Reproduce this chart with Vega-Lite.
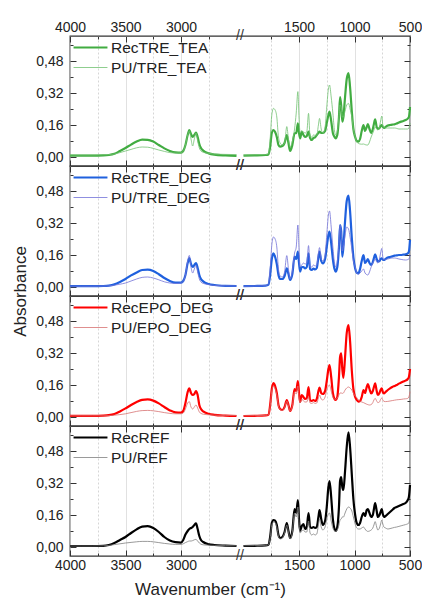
{
"$schema": "https://vega.github.io/schema/vega-lite/v6.json",
"padding": {"left": 10, "top": 16, "right": 13, "bottom": 4},
"background": "white",
"config": {
 "font": "Liberation Sans",
 "view": {"stroke": "#333333", "strokeWidth": 1.3},
 "concat": {"spacing": 0},
 "axis": {"domain": false, "tickColor": "#333333", "tickWidth": 1, "labelFont": "Liberation Sans", "labelFontSize": 14, "labelColor": "#222222", "titleFont": "Liberation Sans", "titleFontSize": 17, "titleFontWeight": "normal", "titleColor": "#222222"},
 "legend": {"orient": "top-left", "offset": 0, "padding": 2, "labelFont": "Liberation Sans", "labelFontSize": 15.5, "labelColor": "#222222", "symbolType": "stroke", "symbolSize": 1150, "clipHeight": 19, "rowPadding": 1, "labelOffset": 2, "labelLimit": 300}
},
"datasets": {
"brk": [{"w": 2250, "a": 0.605}, {"w": 2250, "a": -0.045}],
"spec": [
{"w":4000,"seg":"L","RecTRE_TEA":0.007,"PU/TRE_TEA":0.01,"RecTRE_DEG":0.004,"PU/TRE_DEG":0.004,"RecEPO_DEG":0.006,"PU/EPO_DEG":0.006,"RecREF":0.005,"PU/REF":0.005},
{"w":3900,"seg":"L","RecTRE_TEA":0.007,"PU/TRE_TEA":0.01,"RecTRE_DEG":0.004,"PU/TRE_DEG":0.004,"RecEPO_DEG":0.006,"PU/EPO_DEG":0.006,"RecREF":0.005,"PU/REF":0.005},
{"w":3800,"seg":"L","RecTRE_TEA":0.007,"PU/TRE_TEA":0.01,"RecTRE_DEG":0.004,"PU/TRE_DEG":0.004,"RecEPO_DEG":0.006,"PU/EPO_DEG":0.006,"RecREF":0.005,"PU/REF":0.005},
{"w":3700,"seg":"L","RecTRE_TEA":0.008,"PU/TRE_TEA":0.011,"RecTRE_DEG":0.005,"PU/TRE_DEG":0.005,"RecEPO_DEG":0.007,"PU/EPO_DEG":0.006,"RecREF":0.006,"PU/REF":0.006},
{"w":3650,"seg":"L","RecTRE_TEA":0.01,"PU/TRE_TEA":0.012,"RecTRE_DEG":0.007,"PU/TRE_DEG":0.006,"RecEPO_DEG":0.009,"PU/EPO_DEG":0.007,"RecREF":0.01,"PU/REF":0.008},
{"w":3600,"seg":"L","RecTRE_TEA":0.016,"PU/TRE_TEA":0.015,"RecTRE_DEG":0.013,"PU/TRE_DEG":0.009,"RecEPO_DEG":0.015,"PU/EPO_DEG":0.009,"RecREF":0.02,"PU/REF":0.012},
{"w":3550,"seg":"L","RecTRE_TEA":0.03,"PU/TRE_TEA":0.022,"RecTRE_DEG":0.025,"PU/TRE_DEG":0.014,"RecEPO_DEG":0.028,"PU/EPO_DEG":0.012,"RecREF":0.035,"PU/REF":0.016},
{"w":3500,"seg":"L","RecTRE_TEA":0.045,"PU/TRE_TEA":0.03,"RecTRE_DEG":0.04,"PU/TRE_DEG":0.02,"RecEPO_DEG":0.043,"PU/EPO_DEG":0.016,"RecREF":0.05,"PU/REF":0.02},
{"w":3450,"seg":"L","RecTRE_TEA":0.062,"PU/TRE_TEA":0.038,"RecTRE_DEG":0.058,"PU/TRE_DEG":0.03,"RecEPO_DEG":0.06,"PU/EPO_DEG":0.022,"RecREF":0.07,"PU/REF":0.023},
{"w":3400,"seg":"L","RecTRE_TEA":0.077,"PU/TRE_TEA":0.046,"RecTRE_DEG":0.073,"PU/TRE_DEG":0.04,"RecEPO_DEG":0.075,"PU/EPO_DEG":0.028,"RecREF":0.088,"PU/REF":0.026},
{"w":3350,"seg":"L","RecTRE_TEA":0.087,"PU/TRE_TEA":0.05,"RecTRE_DEG":0.085,"PU/TRE_DEG":0.048,"RecEPO_DEG":0.086,"PU/EPO_DEG":0.032,"RecREF":0.102,"PU/REF":0.028},
{"w":3300,"seg":"L","RecTRE_TEA":0.086,"PU/TRE_TEA":0.049,"RecTRE_DEG":0.087,"PU/TRE_DEG":0.05,"RecEPO_DEG":0.088,"PU/EPO_DEG":0.033,"RecREF":0.104,"PU/REF":0.028},
{"w":3250,"seg":"L","RecTRE_TEA":0.077,"PU/TRE_TEA":0.043,"RecTRE_DEG":0.08,"PU/TRE_DEG":0.045,"RecEPO_DEG":0.082,"PU/EPO_DEG":0.031,"RecREF":0.095,"PU/REF":0.026},
{"w":3200,"seg":"L","RecTRE_TEA":0.06,"PU/TRE_TEA":0.035,"RecTRE_DEG":0.064,"PU/TRE_DEG":0.036,"RecEPO_DEG":0.068,"PU/EPO_DEG":0.027,"RecREF":0.075,"PU/REF":0.022},
{"w":3150,"seg":"L","RecTRE_TEA":0.043,"PU/TRE_TEA":0.028,"RecTRE_DEG":0.045,"PU/TRE_DEG":0.026,"RecEPO_DEG":0.05,"PU/EPO_DEG":0.022,"RecREF":0.05,"PU/REF":0.018},
{"w":3100,"seg":"L","RecTRE_TEA":0.03,"PU/TRE_TEA":0.022,"RecTRE_DEG":0.03,"PU/TRE_DEG":0.02,"RecEPO_DEG":0.033,"PU/EPO_DEG":0.018,"RecREF":0.032,"PU/REF":0.015},
{"w":3050,"seg":"L","RecTRE_TEA":0.023,"PU/TRE_TEA":0.02,"RecTRE_DEG":0.022,"PU/TRE_DEG":0.018,"RecEPO_DEG":0.023,"PU/EPO_DEG":0.016,"RecREF":0.024,"PU/REF":0.013},
{"w":3000,"seg":"L","RecTRE_TEA":0.022,"PU/TRE_TEA":0.021,"RecTRE_DEG":0.022,"PU/TRE_DEG":0.02,"RecEPO_DEG":0.022,"PU/EPO_DEG":0.016,"RecREF":0.022,"PU/REF":0.013},
{"w":2980,"seg":"L","RecTRE_TEA":0.03,"PU/TRE_TEA":0.028,"RecTRE_DEG":0.03,"PU/TRE_DEG":0.028,"RecEPO_DEG":0.03,"PU/EPO_DEG":0.02,"RecREF":0.035,"PU/REF":0.016},
{"w":2960,"seg":"L","RecTRE_TEA":0.06,"PU/TRE_TEA":0.06,"RecTRE_DEG":0.06,"PU/TRE_DEG":0.06,"RecEPO_DEG":0.07,"PU/EPO_DEG":0.04,"RecREF":0.062,"PU/REF":0.022},
{"w":2940,"seg":"L","RecTRE_TEA":0.11,"PU/TRE_TEA":0.11,"RecTRE_DEG":0.12,"PU/TRE_DEG":0.13,"RecEPO_DEG":0.125,"PU/EPO_DEG":0.07,"RecREF":0.08,"PU/REF":0.027},
{"w":2925,"seg":"L","RecTRE_TEA":0.135,"PU/TRE_TEA":0.13,"RecTRE_DEG":0.145,"PU/TRE_DEG":0.158,"RecEPO_DEG":0.143,"PU/EPO_DEG":0.077,"RecREF":0.09,"PU/REF":0.03},
{"w":2910,"seg":"L","RecTRE_TEA":0.115,"PU/TRE_TEA":0.09,"RecTRE_DEG":0.115,"PU/TRE_DEG":0.1,"RecEPO_DEG":0.12,"PU/EPO_DEG":0.05,"RecREF":0.095,"PU/REF":0.03},
{"w":2895,"seg":"L","RecTRE_TEA":0.1,"PU/TRE_TEA":0.055,"RecTRE_DEG":0.1,"PU/TRE_DEG":0.07,"RecEPO_DEG":0.11,"PU/EPO_DEG":0.04,"RecREF":0.1,"PU/REF":0.032},
{"w":2880,"seg":"L","RecTRE_TEA":0.11,"PU/TRE_TEA":0.09,"RecTRE_DEG":0.11,"PU/TRE_DEG":0.09,"RecEPO_DEG":0.115,"PU/EPO_DEG":0.05,"RecREF":0.11,"PU/REF":0.036},
{"w":2865,"seg":"L","RecTRE_TEA":0.122,"PU/TRE_TEA":0.12,"RecTRE_DEG":0.12,"PU/TRE_DEG":0.11,"RecEPO_DEG":0.13,"PU/EPO_DEG":0.06,"RecREF":0.118,"PU/REF":0.038},
{"w":2850,"seg":"L","RecTRE_TEA":0.1,"PU/TRE_TEA":0.08,"RecTRE_DEG":0.095,"PU/TRE_DEG":0.075,"RecEPO_DEG":0.11,"PU/EPO_DEG":0.045,"RecREF":0.09,"PU/REF":0.03},
{"w":2835,"seg":"L","RecTRE_TEA":0.065,"PU/TRE_TEA":0.045,"RecTRE_DEG":0.06,"PU/TRE_DEG":0.04,"RecEPO_DEG":0.06,"PU/EPO_DEG":0.025,"RecREF":0.055,"PU/REF":0.02},
{"w":2820,"seg":"L","RecTRE_TEA":0.045,"PU/TRE_TEA":0.03,"RecTRE_DEG":0.04,"PU/TRE_DEG":0.025,"RecEPO_DEG":0.04,"PU/EPO_DEG":0.018,"RecREF":0.035,"PU/REF":0.014},
{"w":2800,"seg":"L","RecTRE_TEA":0.032,"PU/TRE_TEA":0.024,"RecTRE_DEG":0.028,"PU/TRE_DEG":0.018,"RecEPO_DEG":0.028,"PU/EPO_DEG":0.014,"RecREF":0.025,"PU/REF":0.011},
{"w":2750,"seg":"L","RecTRE_TEA":0.018,"PU/TRE_TEA":0.018,"RecTRE_DEG":0.015,"PU/TRE_DEG":0.012,"RecEPO_DEG":0.016,"PU/EPO_DEG":0.011,"RecREF":0.014,"PU/REF":0.009},
{"w":2700,"seg":"L","RecTRE_TEA":0.012,"PU/TRE_TEA":0.015,"RecTRE_DEG":0.01,"PU/TRE_DEG":0.008,"RecEPO_DEG":0.011,"PU/EPO_DEG":0.009,"RecREF":0.01,"PU/REF":0.008},
{"w":2600,"seg":"L","RecTRE_TEA":0.008,"PU/TRE_TEA":0.013,"RecTRE_DEG":0.006,"PU/TRE_DEG":0.006,"RecEPO_DEG":0.007,"PU/EPO_DEG":0.008,"RecREF":0.007,"PU/REF":0.007},
{"w":2500,"seg":"L","RecTRE_TEA":0.006,"PU/TRE_TEA":0.012,"RecTRE_DEG":0.005,"PU/TRE_DEG":0.005,"RecEPO_DEG":0.005,"PU/EPO_DEG":0.008,"RecREF":0.005,"PU/REF":0.006},
{"w":2000,"seg":"R","RecTRE_TEA":0.007,"PU/TRE_TEA":0.01,"RecTRE_DEG":0.004,"PU/TRE_DEG":0.004,"RecEPO_DEG":0.005,"PU/EPO_DEG":0.006,"RecREF":0.005,"PU/REF":0.006},
{"w":1900,"seg":"R","RecTRE_TEA":0.008,"PU/TRE_TEA":0.011,"RecTRE_DEG":0.005,"PU/TRE_DEG":0.005,"RecEPO_DEG":0.006,"PU/EPO_DEG":0.007,"RecREF":0.006,"PU/REF":0.007},
{"w":1800,"seg":"R","RecTRE_TEA":0.01,"PU/TRE_TEA":0.012,"RecTRE_DEG":0.007,"PU/TRE_DEG":0.007,"RecEPO_DEG":0.008,"PU/EPO_DEG":0.008,"RecREF":0.008,"PU/REF":0.008},
{"w":1775,"seg":"R","RecTRE_TEA":0.013,"PU/TRE_TEA":0.016,"RecTRE_DEG":0.012,"PU/TRE_DEG":0.015,"RecEPO_DEG":0.012,"PU/EPO_DEG":0.012,"RecREF":0.012,"PU/REF":0.012},
{"w":1760,"seg":"R","RecTRE_TEA":0.05,"PU/TRE_TEA":0.09,"RecTRE_DEG":0.06,"PU/TRE_DEG":0.09,"RecEPO_DEG":0.06,"PU/EPO_DEG":0.055,"RecREF":0.05,"PU/REF":0.045},
{"w":1745,"seg":"R","RecTRE_TEA":0.12,"PU/TRE_TEA":0.21,"RecTRE_DEG":0.14,"PU/TRE_DEG":0.21,"RecEPO_DEG":0.14,"PU/EPO_DEG":0.13,"RecREF":0.12,"PU/REF":0.11},
{"w":1730,"seg":"R","RecTRE_TEA":0.135,"PU/TRE_TEA":0.243,"RecTRE_DEG":0.168,"PU/TRE_DEG":0.25,"RecEPO_DEG":0.17,"PU/EPO_DEG":0.155,"RecREF":0.135,"PU/REF":0.125},
{"w":1715,"seg":"R","RecTRE_TEA":0.125,"PU/TRE_TEA":0.235,"RecTRE_DEG":0.15,"PU/TRE_DEG":0.24,"RecEPO_DEG":0.155,"PU/EPO_DEG":0.14,"RecREF":0.132,"PU/REF":0.122},
{"w":1700,"seg":"R","RecTRE_TEA":0.1,"PU/TRE_TEA":0.2,"RecTRE_DEG":0.115,"PU/TRE_DEG":0.2,"RecEPO_DEG":0.12,"PU/EPO_DEG":0.11,"RecREF":0.11,"PU/REF":0.1},
{"w":1685,"seg":"R","RecTRE_TEA":0.06,"PU/TRE_TEA":0.1,"RecTRE_DEG":0.06,"PU/TRE_DEG":0.09,"RecEPO_DEG":0.06,"PU/EPO_DEG":0.055,"RecREF":0.06,"PU/REF":0.055},
{"w":1670,"seg":"R","RecTRE_TEA":0.052,"PU/TRE_TEA":0.07,"RecTRE_DEG":0.04,"PU/TRE_DEG":0.055,"RecEPO_DEG":0.04,"PU/EPO_DEG":0.037,"RecREF":0.045,"PU/REF":0.04},
{"w":1650,"seg":"R","RecTRE_TEA":0.055,"PU/TRE_TEA":0.06,"RecTRE_DEG":0.04,"PU/TRE_DEG":0.05,"RecEPO_DEG":0.035,"PU/EPO_DEG":0.033,"RecREF":0.05,"PU/REF":0.045},
{"w":1630,"seg":"R","RecTRE_TEA":0.07,"PU/TRE_TEA":0.07,"RecTRE_DEG":0.055,"PU/TRE_DEG":0.075,"RecEPO_DEG":0.05,"PU/EPO_DEG":0.047,"RecREF":0.075,"PU/REF":0.07},
{"w":1610,"seg":"R","RecTRE_TEA":0.11,"PU/TRE_TEA":0.152,"RecTRE_DEG":0.093,"PU/TRE_DEG":0.157,"RecEPO_DEG":0.085,"PU/EPO_DEG":0.08,"RecREF":0.12,"PU/REF":0.11},
{"w":1595,"seg":"R","RecTRE_TEA":0.07,"PU/TRE_TEA":0.09,"RecTRE_DEG":0.065,"PU/TRE_DEG":0.09,"RecEPO_DEG":0.06,"PU/EPO_DEG":0.055,"RecREF":0.08,"PU/REF":0.075},
{"w":1580,"seg":"R","RecTRE_TEA":0.03,"PU/TRE_TEA":0.05,"RecTRE_DEG":0.035,"PU/TRE_DEG":0.04,"RecEPO_DEG":0.03,"PU/EPO_DEG":0.03,"RecREF":0.045,"PU/REF":0.04},
{"w":1560,"seg":"R","RecTRE_TEA":0.06,"PU/TRE_TEA":0.08,"RecTRE_DEG":0.065,"PU/TRE_DEG":0.08,"RecEPO_DEG":0.06,"PU/EPO_DEG":0.055,"RecREF":0.08,"PU/REF":0.075},
{"w":1540,"seg":"R","RecTRE_TEA":0.118,"PU/TRE_TEA":0.14,"RecTRE_DEG":0.152,"PU/TRE_DEG":0.17,"RecEPO_DEG":0.14,"PU/EPO_DEG":0.125,"RecREF":0.19,"PU/REF":0.17},
{"w":1525,"seg":"R","RecTRE_TEA":0.12,"PU/TRE_TEA":0.22,"RecTRE_DEG":0.14,"PU/TRE_DEG":0.2,"RecEPO_DEG":0.13,"PU/EPO_DEG":0.115,"RecREF":0.17,"PU/REF":0.15},
{"w":1510,"seg":"R","RecTRE_TEA":0.168,"PU/TRE_TEA":0.327,"RecTRE_DEG":0.177,"PU/TRE_DEG":0.31,"RecEPO_DEG":0.18,"PU/EPO_DEG":0.155,"RecREF":0.235,"PU/REF":0.2},
{"w":1500,"seg":"R","RecTRE_TEA":0.12,"PU/TRE_TEA":0.2,"RecTRE_DEG":0.12,"PU/TRE_DEG":0.19,"RecEPO_DEG":0.12,"PU/EPO_DEG":0.1,"RecREF":0.14,"PU/REF":0.12},
{"w":1490,"seg":"R","RecTRE_TEA":0.093,"PU/TRE_TEA":0.12,"RecTRE_DEG":0.077,"PU/TRE_DEG":0.1,"RecEPO_DEG":0.075,"PU/EPO_DEG":0.07,"RecREF":0.08,"PU/REF":0.07},
{"w":1475,"seg":"R","RecTRE_TEA":0.127,"PU/TRE_TEA":0.13,"RecTRE_DEG":0.1,"PU/TRE_DEG":0.11,"RecEPO_DEG":0.11,"PU/EPO_DEG":0.09,"RecREF":0.105,"PU/REF":0.08},
{"w":1460,"seg":"R","RecTRE_TEA":0.11,"PU/TRE_TEA":0.125,"RecTRE_DEG":0.1,"PU/TRE_DEG":0.12,"RecEPO_DEG":0.1,"PU/EPO_DEG":0.08,"RecREF":0.115,"PU/REF":0.085},
{"w":1445,"seg":"R","RecTRE_TEA":0.1,"PU/TRE_TEA":0.12,"RecTRE_DEG":0.093,"PU/TRE_DEG":0.115,"RecEPO_DEG":0.09,"PU/EPO_DEG":0.075,"RecREF":0.09,"PU/REF":0.075},
{"w":1430,"seg":"R","RecTRE_TEA":0.105,"PU/TRE_TEA":0.125,"RecTRE_DEG":0.1,"PU/TRE_DEG":0.12,"RecEPO_DEG":0.095,"PU/EPO_DEG":0.075,"RecREF":0.1,"PU/REF":0.075},
{"w":1414,"seg":"R","RecTRE_TEA":0.127,"PU/TRE_TEA":0.218,"RecTRE_DEG":0.168,"PU/TRE_DEG":0.207,"RecEPO_DEG":0.15,"PU/EPO_DEG":0.1,"RecREF":0.17,"PU/REF":0.13},
{"w":1400,"seg":"R","RecTRE_TEA":0.095,"PU/TRE_TEA":0.1,"RecTRE_DEG":0.09,"PU/TRE_DEG":0.1,"RecEPO_DEG":0.085,"PU/EPO_DEG":0.07,"RecREF":0.1,"PU/REF":0.07},
{"w":1385,"seg":"R","RecTRE_TEA":0.085,"PU/TRE_TEA":0.1,"RecTRE_DEG":0.085,"PU/TRE_DEG":0.1,"RecEPO_DEG":0.08,"PU/EPO_DEG":0.068,"RecREF":0.095,"PU/REF":0.06},
{"w":1370,"seg":"R","RecTRE_TEA":0.095,"PU/TRE_TEA":0.11,"RecTRE_DEG":0.092,"PU/TRE_DEG":0.11,"RecEPO_DEG":0.085,"PU/EPO_DEG":0.072,"RecREF":0.1,"PU/REF":0.065},
{"w":1355,"seg":"R","RecTRE_TEA":0.098,"PU/TRE_TEA":0.108,"RecTRE_DEG":0.088,"PU/TRE_DEG":0.105,"RecEPO_DEG":0.08,"PU/EPO_DEG":0.068,"RecREF":0.095,"PU/REF":0.06},
{"w":1340,"seg":"R","RecTRE_TEA":0.11,"PU/TRE_TEA":0.11,"RecTRE_DEG":0.095,"PU/TRE_DEG":0.11,"RecEPO_DEG":0.09,"PU/EPO_DEG":0.07,"RecREF":0.1,"PU/REF":0.065},
{"w":1325,"seg":"R","RecTRE_TEA":0.12,"PU/TRE_TEA":0.16,"RecTRE_DEG":0.15,"PU/TRE_DEG":0.17,"RecEPO_DEG":0.13,"PU/EPO_DEG":0.095,"RecREF":0.15,"PU/REF":0.11},
{"w":1315,"seg":"R","RecTRE_TEA":0.127,"PU/TRE_TEA":0.193,"RecTRE_DEG":0.177,"PU/TRE_DEG":0.197,"RecEPO_DEG":0.147,"PU/EPO_DEG":0.11,"RecREF":0.185,"PU/REF":0.14},
{"w":1300,"seg":"R","RecTRE_TEA":0.12,"PU/TRE_TEA":0.14,"RecTRE_DEG":0.13,"PU/TRE_DEG":0.14,"RecEPO_DEG":0.12,"PU/EPO_DEG":0.09,"RecREF":0.14,"PU/REF":0.1},
{"w":1285,"seg":"R","RecTRE_TEA":0.12,"PU/TRE_TEA":0.12,"RecTRE_DEG":0.118,"PU/TRE_DEG":0.13,"RecEPO_DEG":0.115,"PU/EPO_DEG":0.085,"RecREF":0.11,"PU/REF":0.085},
{"w":1265,"seg":"R","RecTRE_TEA":0.13,"PU/TRE_TEA":0.15,"RecTRE_DEG":0.14,"PU/TRE_DEG":0.16,"RecEPO_DEG":0.13,"PU/EPO_DEG":0.1,"RecREF":0.13,"PU/REF":0.1},
{"w":1250,"seg":"R","RecTRE_TEA":0.17,"PU/TRE_TEA":0.25,"RecTRE_DEG":0.2,"PU/TRE_DEG":0.26,"RecEPO_DEG":0.18,"PU/EPO_DEG":0.135,"RecREF":0.2,"PU/REF":0.14},
{"w":1235,"seg":"R","RecTRE_TEA":0.21,"PU/TRE_TEA":0.34,"RecTRE_DEG":0.26,"PU/TRE_DEG":0.36,"RecEPO_DEG":0.24,"PU/EPO_DEG":0.155,"RecREF":0.3,"PU/REF":0.165},
{"w":1225,"seg":"R","RecTRE_TEA":0.227,"PU/TRE_TEA":0.36,"RecTRE_DEG":0.277,"PU/TRE_DEG":0.38,"RecEPO_DEG":0.26,"PU/EPO_DEG":0.16,"RecREF":0.33,"PU/REF":0.17},
{"w":1210,"seg":"R","RecTRE_TEA":0.18,"PU/TRE_TEA":0.3,"RecTRE_DEG":0.22,"PU/TRE_DEG":0.3,"RecEPO_DEG":0.2,"PU/EPO_DEG":0.13,"RecREF":0.25,"PU/REF":0.13},
{"w":1195,"seg":"R","RecTRE_TEA":0.12,"PU/TRE_TEA":0.22,"RecTRE_DEG":0.14,"PU/TRE_DEG":0.2,"RecEPO_DEG":0.12,"PU/EPO_DEG":0.1,"RecREF":0.14,"PU/REF":0.095},
{"w":1180,"seg":"R","RecTRE_TEA":0.1,"PU/TRE_TEA":0.13,"RecTRE_DEG":0.09,"PU/TRE_DEG":0.12,"RecEPO_DEG":0.09,"PU/EPO_DEG":0.09,"RecREF":0.09,"PU/REF":0.08},
{"w":1170,"seg":"R","RecTRE_TEA":0.093,"PU/TRE_TEA":0.11,"RecTRE_DEG":0.077,"PU/TRE_DEG":0.1,"RecEPO_DEG":0.085,"PU/EPO_DEG":0.088,"RecREF":0.08,"PU/REF":0.078},
{"w":1155,"seg":"R","RecTRE_TEA":0.11,"PU/TRE_TEA":0.13,"RecTRE_DEG":0.1,"PU/TRE_DEG":0.13,"RecEPO_DEG":0.1,"PU/EPO_DEG":0.095,"RecREF":0.1,"PU/REF":0.085},
{"w":1140,"seg":"R","RecTRE_TEA":0.2,"PU/TRE_TEA":0.2,"RecTRE_DEG":0.2,"PU/TRE_DEG":0.22,"RecEPO_DEG":0.2,"PU/EPO_DEG":0.11,"RecREF":0.2,"PU/REF":0.11},
{"w":1130,"seg":"R","RecTRE_TEA":0.3,"PU/TRE_TEA":0.26,"RecTRE_DEG":0.31,"PU/TRE_DEG":0.31,"RecEPO_DEG":0.3,"PU/EPO_DEG":0.12,"RecREF":0.33,"PU/REF":0.135},
{"w":1120,"seg":"R","RecTRE_TEA":0.26,"PU/TRE_TEA":0.25,"RecTRE_DEG":0.28,"PU/TRE_DEG":0.27,"RecEPO_DEG":0.318,"PU/EPO_DEG":0.12,"RecREF":0.35,"PU/REF":0.14},
{"w":1110,"seg":"R","RecTRE_TEA":0.177,"PU/TRE_TEA":0.2,"RecTRE_DEG":0.152,"PU/TRE_DEG":0.18,"RecEPO_DEG":0.24,"PU/EPO_DEG":0.118,"RecREF":0.3,"PU/REF":0.15},
{"w":1100,"seg":"R","RecTRE_TEA":0.2,"PU/TRE_TEA":0.2,"RecTRE_DEG":0.2,"PU/TRE_DEG":0.2,"RecEPO_DEG":0.195,"PU/EPO_DEG":0.12,"RecREF":0.285,"PU/REF":0.15},
{"w":1085,"seg":"R","RecTRE_TEA":0.3,"PU/TRE_TEA":0.23,"RecTRE_DEG":0.33,"PU/TRE_DEG":0.26,"RecEPO_DEG":0.3,"PU/EPO_DEG":0.135,"RecREF":0.38,"PU/REF":0.17},
{"w":1070,"seg":"R","RecTRE_TEA":0.39,"PU/TRE_TEA":0.26,"RecTRE_DEG":0.43,"PU/TRE_DEG":0.3,"RecEPO_DEG":0.42,"PU/EPO_DEG":0.145,"RecREF":0.5,"PU/REF":0.19},
{"w":1054,"seg":"R","RecTRE_TEA":0.42,"PU/TRE_TEA":0.268,"RecTRE_DEG":0.457,"PU/TRE_DEG":0.29,"RecEPO_DEG":0.46,"PU/EPO_DEG":0.15,"RecREF":0.573,"PU/REF":0.2},
{"w":1040,"seg":"R","RecTRE_TEA":0.35,"PU/TRE_TEA":0.24,"RecTRE_DEG":0.38,"PU/TRE_DEG":0.25,"RecEPO_DEG":0.38,"PU/EPO_DEG":0.145,"RecREF":0.5,"PU/REF":0.195},
{"w":1024,"seg":"R","RecTRE_TEA":0.227,"PU/TRE_TEA":0.2,"RecTRE_DEG":0.243,"PU/TRE_DEG":0.19,"RecEPO_DEG":0.23,"PU/EPO_DEG":0.135,"RecREF":0.36,"PU/REF":0.18},
{"w":1010,"seg":"R","RecTRE_TEA":0.14,"PU/TRE_TEA":0.14,"RecTRE_DEG":0.15,"PU/TRE_DEG":0.13,"RecEPO_DEG":0.14,"PU/EPO_DEG":0.12,"RecREF":0.24,"PU/REF":0.15},
{"w":994,"seg":"R","RecTRE_TEA":0.1,"PU/TRE_TEA":0.1,"RecTRE_DEG":0.093,"PU/TRE_DEG":0.1,"RecEPO_DEG":0.1,"PU/EPO_DEG":0.105,"RecREF":0.16,"PU/REF":0.115},
{"w":980,"seg":"R","RecTRE_TEA":0.08,"PU/TRE_TEA":0.075,"RecTRE_DEG":0.072,"PU/TRE_DEG":0.07,"RecEPO_DEG":0.085,"PU/EPO_DEG":0.098,"RecREF":0.12,"PU/REF":0.095},
{"w":965,"seg":"R","RecTRE_TEA":0.077,"PU/TRE_TEA":0.068,"RecTRE_DEG":0.068,"PU/TRE_DEG":0.065,"RecEPO_DEG":0.077,"PU/EPO_DEG":0.085,"RecREF":0.11,"PU/REF":0.09},
{"w":950,"seg":"R","RecTRE_TEA":0.09,"PU/TRE_TEA":0.065,"RecTRE_DEG":0.09,"PU/TRE_DEG":0.07,"RecEPO_DEG":0.08,"PU/EPO_DEG":0.08,"RecREF":0.12,"PU/REF":0.09},
{"w":935,"seg":"R","RecTRE_TEA":0.13,"PU/TRE_TEA":0.064,"RecTRE_DEG":0.13,"PU/TRE_DEG":0.08,"RecEPO_DEG":0.1,"PU/EPO_DEG":0.075,"RecREF":0.15,"PU/REF":0.095},
{"w":919,"seg":"R","RecTRE_TEA":0.16,"PU/TRE_TEA":0.065,"RecTRE_DEG":0.16,"PU/TRE_DEG":0.09,"RecEPO_DEG":0.135,"PU/EPO_DEG":0.072,"RecREF":0.17,"PU/REF":0.1},
{"w":905,"seg":"R","RecTRE_TEA":0.13,"PU/TRE_TEA":0.062,"RecTRE_DEG":0.12,"PU/TRE_DEG":0.07,"RecEPO_DEG":0.12,"PU/EPO_DEG":0.068,"RecREF":0.155,"PU/REF":0.09},
{"w":890,"seg":"R","RecTRE_TEA":0.15,"PU/TRE_TEA":0.06,"RecTRE_DEG":0.13,"PU/TRE_DEG":0.062,"RecEPO_DEG":0.15,"PU/EPO_DEG":0.064,"RecREF":0.185,"PU/REF":0.08},
{"w":880,"seg":"R","RecTRE_TEA":0.165,"PU/TRE_TEA":0.06,"RecTRE_DEG":0.14,"PU/TRE_DEG":0.06,"RecEPO_DEG":0.165,"PU/EPO_DEG":0.062,"RecREF":0.19,"PU/REF":0.078},
{"w":865,"seg":"R","RecTRE_TEA":0.14,"PU/TRE_TEA":0.075,"RecTRE_DEG":0.12,"PU/TRE_DEG":0.075,"RecEPO_DEG":0.14,"PU/EPO_DEG":0.06,"RecREF":0.17,"PU/REF":0.08},
{"w":850,"seg":"R","RecTRE_TEA":0.12,"PU/TRE_TEA":0.1,"RecTRE_DEG":0.11,"PU/TRE_DEG":0.1,"RecEPO_DEG":0.118,"PU/EPO_DEG":0.062,"RecREF":0.15,"PU/REF":0.085},
{"w":835,"seg":"R","RecTRE_TEA":0.14,"PU/TRE_TEA":0.12,"RecTRE_DEG":0.125,"PU/TRE_DEG":0.12,"RecEPO_DEG":0.13,"PU/EPO_DEG":0.072,"RecREF":0.16,"PU/REF":0.095},
{"w":825,"seg":"R","RecTRE_TEA":0.165,"PU/TRE_TEA":0.135,"RecTRE_DEG":0.145,"PU/TRE_DEG":0.13,"RecEPO_DEG":0.15,"PU/EPO_DEG":0.085,"RecREF":0.19,"PU/REF":0.11},
{"w":814,"seg":"R","RecTRE_TEA":0.188,"PU/TRE_TEA":0.15,"RecTRE_DEG":0.163,"PU/TRE_DEG":0.14,"RecEPO_DEG":0.168,"PU/EPO_DEG":0.093,"RecREF":0.22,"PU/REF":0.127},
{"w":800,"seg":"R","RecTRE_TEA":0.15,"PU/TRE_TEA":0.14,"RecTRE_DEG":0.14,"PU/TRE_DEG":0.125,"RecEPO_DEG":0.13,"PU/EPO_DEG":0.08,"RecREF":0.18,"PU/REF":0.1},
{"w":790,"seg":"R","RecTRE_TEA":0.14,"PU/TRE_TEA":0.135,"RecTRE_DEG":0.127,"PU/TRE_DEG":0.12,"RecEPO_DEG":0.11,"PU/EPO_DEG":0.072,"RecREF":0.15,"PU/REF":0.085},
{"w":775,"seg":"R","RecTRE_TEA":0.145,"PU/TRE_TEA":0.15,"RecTRE_DEG":0.13,"PU/TRE_DEG":0.14,"RecEPO_DEG":0.12,"PU/EPO_DEG":0.075,"RecREF":0.16,"PU/REF":0.095},
{"w":765,"seg":"R","RecTRE_TEA":0.155,"PU/TRE_TEA":0.18,"RecTRE_DEG":0.14,"PU/TRE_DEG":0.17,"RecEPO_DEG":0.135,"PU/EPO_DEG":0.088,"RecREF":0.175,"PU/REF":0.115},
{"w":754,"seg":"R","RecTRE_TEA":0.16,"PU/TRE_TEA":0.205,"RecTRE_DEG":0.143,"PU/TRE_DEG":0.193,"RecEPO_DEG":0.143,"PU/EPO_DEG":0.095,"RecREF":0.19,"PU/REF":0.135},
{"w":745,"seg":"R","RecTRE_TEA":0.15,"PU/TRE_TEA":0.16,"RecTRE_DEG":0.137,"PU/TRE_DEG":0.15,"RecEPO_DEG":0.125,"PU/EPO_DEG":0.085,"RecREF":0.165,"PU/REF":0.115},
{"w":735,"seg":"R","RecTRE_TEA":0.145,"PU/TRE_TEA":0.148,"RecTRE_DEG":0.135,"PU/TRE_DEG":0.135,"RecEPO_DEG":0.118,"PU/EPO_DEG":0.078,"RecREF":0.15,"PU/REF":0.1},
{"w":720,"seg":"R","RecTRE_TEA":0.15,"PU/TRE_TEA":0.145,"RecTRE_DEG":0.14,"PU/TRE_DEG":0.138,"RecEPO_DEG":0.125,"PU/EPO_DEG":0.077,"RecREF":0.155,"PU/REF":0.095},
{"w":700,"seg":"R","RecTRE_TEA":0.157,"PU/TRE_TEA":0.145,"RecTRE_DEG":0.147,"PU/TRE_DEG":0.14,"RecEPO_DEG":0.135,"PU/EPO_DEG":0.078,"RecREF":0.165,"PU/REF":0.09},
{"w":680,"seg":"R","RecTRE_TEA":0.16,"PU/TRE_TEA":0.145,"RecTRE_DEG":0.15,"PU/TRE_DEG":0.143,"RecEPO_DEG":0.143,"PU/EPO_DEG":0.08,"RecREF":0.175,"PU/REF":0.092},
{"w":660,"seg":"R","RecTRE_TEA":0.162,"PU/TRE_TEA":0.145,"RecTRE_DEG":0.153,"PU/TRE_DEG":0.145,"RecEPO_DEG":0.15,"PU/EPO_DEG":0.082,"RecREF":0.185,"PU/REF":0.095},
{"w":640,"seg":"R","RecTRE_TEA":0.163,"PU/TRE_TEA":0.145,"RecTRE_DEG":0.157,"PU/TRE_DEG":0.145,"RecEPO_DEG":0.155,"PU/EPO_DEG":0.084,"RecREF":0.195,"PU/REF":0.098},
{"w":620,"seg":"R","RecTRE_TEA":0.167,"PU/TRE_TEA":0.143,"RecTRE_DEG":0.158,"PU/TRE_DEG":0.143,"RecEPO_DEG":0.16,"PU/EPO_DEG":0.086,"RecREF":0.2,"PU/REF":0.1},
{"w":600,"seg":"R","RecTRE_TEA":0.173,"PU/TRE_TEA":0.14,"RecTRE_DEG":0.16,"PU/TRE_DEG":0.14,"RecEPO_DEG":0.167,"PU/EPO_DEG":0.087,"RecREF":0.205,"PU/REF":0.103},
{"w":580,"seg":"R","RecTRE_TEA":0.177,"PU/TRE_TEA":0.14,"RecTRE_DEG":0.16,"PU/TRE_DEG":0.138,"RecEPO_DEG":0.172,"PU/EPO_DEG":0.088,"RecREF":0.21,"PU/REF":0.106},
{"w":560,"seg":"R","RecTRE_TEA":0.18,"PU/TRE_TEA":0.14,"RecTRE_DEG":0.162,"PU/TRE_DEG":0.136,"RecEPO_DEG":0.177,"PU/EPO_DEG":0.09,"RecREF":0.215,"PU/REF":0.109},
{"w":540,"seg":"R","RecTRE_TEA":0.185,"PU/TRE_TEA":0.14,"RecTRE_DEG":0.163,"PU/TRE_DEG":0.135,"RecEPO_DEG":0.182,"PU/EPO_DEG":0.091,"RecREF":0.22,"PU/REF":0.112},
{"w":520,"seg":"R","RecTRE_TEA":0.192,"PU/TRE_TEA":0.14,"RecTRE_DEG":0.168,"PU/TRE_DEG":0.137,"RecEPO_DEG":0.19,"PU/EPO_DEG":0.093,"RecREF":0.235,"PU/REF":0.116},
{"w":510,"seg":"R","RecTRE_TEA":0.2,"PU/TRE_TEA":0.145,"RecTRE_DEG":0.177,"PU/TRE_DEG":0.14,"RecEPO_DEG":0.2,"PU/EPO_DEG":0.1,"RecREF":0.25,"PU/REF":0.12},
{"w":500,"seg":"R","RecTRE_TEA":0.25,"PU/TRE_TEA":0.17,"RecTRE_DEG":0.235,"PU/TRE_DEG":0.16,"RecEPO_DEG":0.24,"PU/EPO_DEG":0.127,"RecREF":0.31,"PU/REF":0.155}
]},
"spacing": 0,
"bounds": "flush",
"resolve": {"scale": {"color": "independent", "strokeWidth": "independent"}},
"vconcat": [
{"width": 340, "height": 130,
 "layer": [
  {"data": {"name": "spec"},
   "transform": [{"fold": ["RecTRE_TEA", "PU/TRE_TEA"], "as": ["series", "a"]}],
   "mark": {"type": "line", "interpolate": "monotone"},
   "encoding": {
    "x": {"field": "w", "type": "quantitative", "scale": {"domain": [4000, 2500, 2000, 500], "range": [0, 166.5, 173.5, 340], "zero": false, "nice": false},
      "axis": {"orient": "bottom", "values": [4000,3750,3500,3250,3000,2750,1750,1500,1250,1000,750,500], "labels": false, "tickSize": {"condition": {"test": "datum.value % 500 == 0", "value": -6}, "value": -3}, "grid": true, "gridColor": "#d6d6d6", "gridDash": {"condition": {"test": "datum.value % 500 == 0", "value": [1, 0]}, "value": [2, 2]}, "title": null}},
    "y": {"field": "a", "type": "quantitative", "scale": {"domain": [-0.045, 0.605], "zero": false, "nice": false},
      "axis": {"orient": "left", "values": [0,0.08,0.16,0.24,0.32,0.4,0.48,0.56], "labelExpr": "indexof([0,0.16,0.32,0.48], datum.value) >= 0 ? replace(format(datum.value, '.2f'), '.', ',') : ''", "tickSize": {"condition": {"test": "indexof([0,0.16,0.32,0.48], datum.value) >= 0", "value": -6}, "value": -3}, "labelPadding": 13, "grid": false, "title": null}},
    "detail": {"field": "seg", "type": "nominal"},
    "color": {"field": "series", "type": "nominal", "scale": {"domain": ["RecTRE_TEA", "PU/TRE_TEA"], "range": ["#41ac41", "#72c272"]}, "legend": {"title": null, "labelFontSize": 15.5}},
    "strokeWidth": {"field": "series", "type": "nominal", "scale": {"domain": ["RecTRE_TEA", "PU/TRE_TEA"], "range": [2.2, 0.8]}, "legend": {"title": null, "labelFontSize": 15.5}}
   }},
  {"data": {"name": "brk"},
   "mark": {"type": "text", "text": "//", "fontSize": 14, "color": "#333333"},
   "encoding": {
    "x": {"field": "w", "type": "quantitative", "scale": {"domain": [4000, 2500, 2000, 500], "range": [0, 166.5, 173.5, 340], "zero": false, "nice": false},
      "axis": {"orient": "top", "values": [4000,3750,3500,3250,3000,2750,1750,1500,1250,1000,750,500], "labelExpr": "datum.value % 500 == 0 ? datum.value : ''", "labelFlush": false, "labelOverlap": false, "tickSize": {"condition": {"test": "datum.value % 500 == 0", "value": -6}, "value": -3}, "labelPadding": 8, "grid": false, "title": null}},
    "y": {"field": "a", "type": "quantitative", "scale": {"domain": [-0.045, 0.605], "zero": false, "nice": false},
      "axis": {"orient": "right", "values": [0,0.08,0.16,0.24,0.32,0.4,0.48,0.56], "labels": false, "tickSize": {"condition": {"test": "indexof([0,0.16,0.32,0.48], datum.value) >= 0", "value": -6}, "value": -3}, "grid": false, "title": null}}
   }}
 ],
 "resolve": {"axis": {"x": "independent", "y": "independent"}}
},
{"width": 340, "height": 130,
 "layer": [
  {"data": {"name": "spec"},
   "transform": [{"fold": ["RecTRE_DEG", "PU/TRE_DEG"], "as": ["series", "a"]}],
   "mark": {"type": "line", "interpolate": "monotone"},
   "encoding": {
    "x": {"field": "w", "type": "quantitative", "scale": {"domain": [4000, 2500, 2000, 500], "range": [0, 166.5, 173.5, 340], "zero": false, "nice": false},
      "axis": {"orient": "bottom", "values": [4000,3750,3500,3250,3000,2750,1750,1500,1250,1000,750,500], "labels": false, "tickSize": {"condition": {"test": "datum.value % 500 == 0", "value": -6}, "value": -3}, "grid": true, "gridColor": "#d6d6d6", "gridDash": {"condition": {"test": "datum.value % 500 == 0", "value": [1, 0]}, "value": [2, 2]}, "title": null}},
    "y": {"field": "a", "type": "quantitative", "scale": {"domain": [-0.045, 0.605], "zero": false, "nice": false},
      "axis": {"orient": "left", "values": [0,0.08,0.16,0.24,0.32,0.4,0.48,0.56], "labelExpr": "indexof([0,0.16,0.32,0.48], datum.value) >= 0 ? replace(format(datum.value, '.2f'), '.', ',') : ''", "tickSize": {"condition": {"test": "indexof([0,0.16,0.32,0.48], datum.value) >= 0", "value": -6}, "value": -3}, "labelPadding": 13, "grid": false, "title": "Absorbance", "titleX": -50, "titleY": 125, "titleAngle": 270, "titleAlign": "center", "titleBaseline": "middle"}},
    "detail": {"field": "seg", "type": "nominal"},
    "color": {"field": "series", "type": "nominal", "scale": {"domain": ["RecTRE_DEG", "PU/TRE_DEG"], "range": ["#1f60de", "#7272d8"]}, "legend": {"title": null, "labelFontSize": 15.5}},
    "strokeWidth": {"field": "series", "type": "nominal", "scale": {"domain": ["RecTRE_DEG", "PU/TRE_DEG"], "range": [2.2, 0.8]}, "legend": {"title": null, "labelFontSize": 15.5}}
   }},
  {"data": {"name": "brk"},
   "mark": {"type": "text", "text": "//", "fontSize": 14, "color": "#333333"},
   "encoding": {
    "x": {"field": "w", "type": "quantitative", "scale": {"domain": [4000, 2500, 2000, 500], "range": [0, 166.5, 173.5, 340], "zero": false, "nice": false},
      "axis": {"orient": "top", "values": [4000,3750,3500,3250,3000,2750,1750,1500,1250,1000,750,500], "labels": false, "tickSize": {"condition": {"test": "datum.value % 500 == 0", "value": -6}, "value": -3}, "grid": false, "title": null}},
    "y": {"field": "a", "type": "quantitative", "scale": {"domain": [-0.045, 0.605], "zero": false, "nice": false},
      "axis": {"orient": "right", "values": [0,0.08,0.16,0.24,0.32,0.4,0.48,0.56], "labels": false, "tickSize": {"condition": {"test": "indexof([0,0.16,0.32,0.48], datum.value) >= 0", "value": -6}, "value": -3}, "grid": false, "title": null}}
   }}
 ],
 "resolve": {"axis": {"x": "independent", "y": "independent"}}
},
{"width": 340, "height": 130,
 "layer": [
  {"data": {"name": "spec"},
   "transform": [{"fold": ["RecEPO_DEG", "PU/EPO_DEG"], "as": ["series", "a"]}],
   "mark": {"type": "line", "interpolate": "monotone"},
   "encoding": {
    "x": {"field": "w", "type": "quantitative", "scale": {"domain": [4000, 2500, 2000, 500], "range": [0, 166.5, 173.5, 340], "zero": false, "nice": false},
      "axis": {"orient": "bottom", "values": [4000,3750,3500,3250,3000,2750,1750,1500,1250,1000,750,500], "labels": false, "tickSize": {"condition": {"test": "datum.value % 500 == 0", "value": -6}, "value": -3}, "grid": true, "gridColor": "#d6d6d6", "gridDash": {"condition": {"test": "datum.value % 500 == 0", "value": [1, 0]}, "value": [2, 2]}, "title": null}},
    "y": {"field": "a", "type": "quantitative", "scale": {"domain": [-0.045, 0.605], "zero": false, "nice": false},
      "axis": {"orient": "left", "values": [0,0.08,0.16,0.24,0.32,0.4,0.48,0.56], "labelExpr": "indexof([0,0.16,0.32,0.48], datum.value) >= 0 ? replace(format(datum.value, '.2f'), '.', ',') : ''", "tickSize": {"condition": {"test": "indexof([0,0.16,0.32,0.48], datum.value) >= 0", "value": -6}, "value": -3}, "labelPadding": 13, "grid": false, "title": null}},
    "detail": {"field": "seg", "type": "nominal"},
    "color": {"field": "series", "type": "nominal", "scale": {"domain": ["RecEPO_DEG", "PU/EPO_DEG"], "range": ["#ff0000", "#d77272"]}, "legend": {"title": null, "labelFontSize": 15.5}},
    "strokeWidth": {"field": "series", "type": "nominal", "scale": {"domain": ["RecEPO_DEG", "PU/EPO_DEG"], "range": [2.2, 0.8]}, "legend": {"title": null, "labelFontSize": 15.5}}
   }},
  {"data": {"name": "brk"},
   "mark": {"type": "text", "text": "//", "fontSize": 14, "color": "#333333"},
   "encoding": {
    "x": {"field": "w", "type": "quantitative", "scale": {"domain": [4000, 2500, 2000, 500], "range": [0, 166.5, 173.5, 340], "zero": false, "nice": false},
      "axis": {"orient": "top", "values": [4000,3750,3500,3250,3000,2750,1750,1500,1250,1000,750,500], "labels": false, "tickSize": {"condition": {"test": "datum.value % 500 == 0", "value": -6}, "value": -3}, "grid": false, "title": null}},
    "y": {"field": "a", "type": "quantitative", "scale": {"domain": [-0.045, 0.605], "zero": false, "nice": false},
      "axis": {"orient": "right", "values": [0,0.08,0.16,0.24,0.32,0.4,0.48,0.56], "labels": false, "tickSize": {"condition": {"test": "indexof([0,0.16,0.32,0.48], datum.value) >= 0", "value": -6}, "value": -3}, "grid": false, "title": null}}
   }}
 ],
 "resolve": {"axis": {"x": "independent", "y": "independent"}}
},
{"width": 340, "height": 130,
 "layer": [
  {"data": {"name": "spec"},
   "transform": [{"fold": ["RecREF", "PU/REF"], "as": ["series", "a"]}],
   "mark": {"type": "line", "interpolate": "monotone"},
   "encoding": {
    "x": {"field": "w", "type": "quantitative", "scale": {"domain": [4000, 2500, 2000, 500], "range": [0, 166.5, 173.5, 340], "zero": false, "nice": false},
      "axis": {"orient": "bottom", "values": [4000,3750,3500,3250,3000,2750,1750,1500,1250,1000,750,500], "labelExpr": "datum.value % 500 == 0 ? datum.value : ''", "labelFlush": false, "labelOverlap": false, "tickSize": {"condition": {"test": "datum.value % 500 == 0", "value": -6}, "value": -3}, "labelPadding": 8, "grid": true, "gridColor": "#d6d6d6", "gridDash": {"condition": {"test": "datum.value % 500 == 0", "value": [1, 0]}, "value": [2, 2]}, "title": "Wavenumber (cm⁻¹)", "titleX": 140, "titlePadding": 6}},
    "y": {"field": "a", "type": "quantitative", "scale": {"domain": [-0.045, 0.605], "zero": false, "nice": false},
      "axis": {"orient": "left", "values": [0,0.08,0.16,0.24,0.32,0.4,0.48,0.56], "labelExpr": "indexof([0,0.16,0.32,0.48], datum.value) >= 0 ? replace(format(datum.value, '.2f'), '.', ',') : ''", "tickSize": {"condition": {"test": "indexof([0,0.16,0.32,0.48], datum.value) >= 0", "value": -6}, "value": -3}, "labelPadding": 13, "grid": false, "title": null}},
    "detail": {"field": "seg", "type": "nominal"},
    "color": {"field": "series", "type": "nominal", "scale": {"domain": ["RecREF", "PU/REF"], "range": ["#000000", "#808080"]}, "legend": {"title": null, "labelFontSize": 15.5}},
    "strokeWidth": {"field": "series", "type": "nominal", "scale": {"domain": ["RecREF", "PU/REF"], "range": [2.2, 0.8]}, "legend": {"title": null, "labelFontSize": 15.5}}
   }},
  {"data": {"name": "brk"},
   "mark": {"type": "text", "text": "//", "fontSize": 14, "color": "#333333"},
   "encoding": {
    "x": {"field": "w", "type": "quantitative", "scale": {"domain": [4000, 2500, 2000, 500], "range": [0, 166.5, 173.5, 340], "zero": false, "nice": false},
      "axis": {"orient": "top", "values": [4000,3750,3500,3250,3000,2750,1750,1500,1250,1000,750,500], "labels": false, "tickSize": {"condition": {"test": "datum.value % 500 == 0", "value": -6}, "value": -3}, "grid": false, "title": null}},
    "y": {"field": "a", "type": "quantitative", "scale": {"domain": [-0.045, 0.605], "zero": false, "nice": false},
      "axis": {"orient": "right", "values": [0,0.08,0.16,0.24,0.32,0.4,0.48,0.56], "labels": false, "tickSize": {"condition": {"test": "indexof([0,0.16,0.32,0.48], datum.value) >= 0", "value": -6}, "value": -3}, "grid": false, "title": null}}
   }}
 ],
 "resolve": {"axis": {"x": "independent", "y": "independent"}}
}
]
}
